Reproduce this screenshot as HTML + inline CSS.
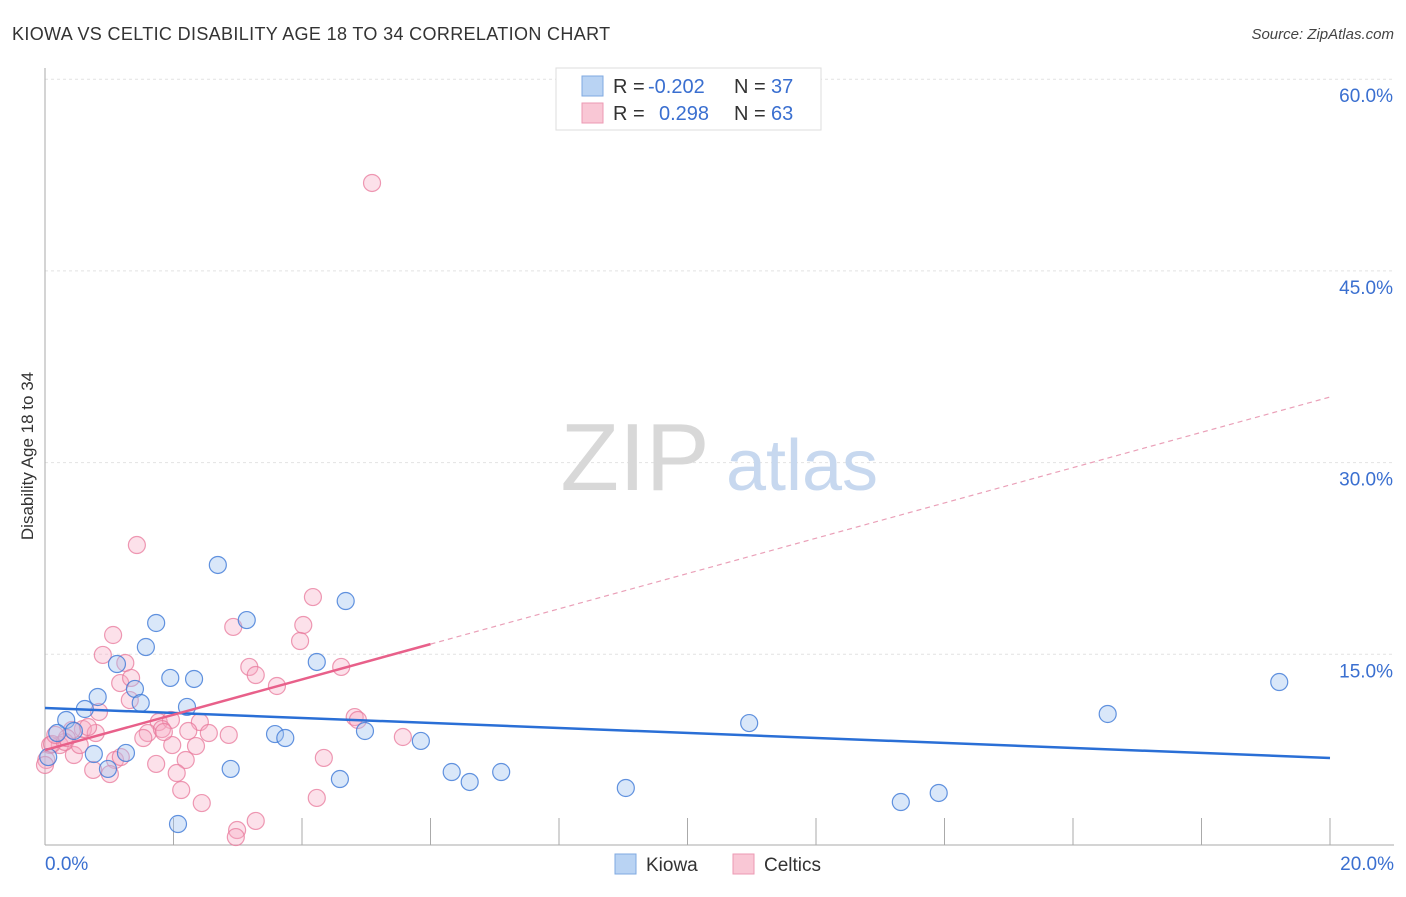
<!DOCTYPE html>
<html><head><meta charset="utf-8">
<style>
body{margin:0;background:#fff;font-family:"Liberation Sans",sans-serif;}
svg text{font-family:"Liberation Sans",sans-serif;}
</style></head>
<body>
<svg id="chart" width="1406" height="892" xmlns="http://www.w3.org/2000/svg">
<text x="12" y="40" font-size="18" fill="#333" letter-spacing="0.35">KIOWA VS CELTIC DISABILITY AGE 18 TO 34 CORRELATION CHART</text>
<text x="1394" y="39" font-size="15" fill="#444" text-anchor="end" font-style="italic">Source: ZipAtlas.com</text>
<text transform="translate(33,456) rotate(-90)" font-size="17" fill="#333" text-anchor="middle">Disability Age 18 to 34</text>
<g id="grid"></g>
<g>
<text x="635" y="490" font-size="96" fill="#d8d8d8" text-anchor="middle" font-family="Liberation Serif, serif">ZIP</text>
<text x="802" y="490" font-size="72" fill="#c7d8ef" text-anchor="middle">atlas</text>
</g>
<g id="marks"></g>
<g id="lines"></g>
<g>
<rect x="556" y="68" width="265" height="62" fill="#fff" stroke="#ddd"/>
<rect x="582" y="76" width="21" height="20" fill="#b9d3f3" stroke="#7fa9e0"/>
<rect x="582" y="103" width="21" height="20" fill="#f9c7d5" stroke="#ec9ab3"/>
<text x="613" y="93" font-size="20" fill="#333">R =</text>
<text x="648" y="93" font-size="20" fill="#3a6fd0">-0.202</text>
<text x="734" y="93" font-size="20" fill="#333">N =</text>
<text x="771" y="93" font-size="20" fill="#3a6fd0">37</text>
<text x="613" y="120" font-size="20" fill="#333">R =</text>
<text x="659" y="120" font-size="20" fill="#3a6fd0">0.298</text>
<text x="734" y="120" font-size="20" fill="#333">N =</text>
<text x="771" y="120" font-size="20" fill="#3a6fd0">63</text>
</g>
<g>
<rect x="615" y="854" width="21" height="20" fill="#b9d3f3" stroke="#7fa9e0"/>
<text x="646" y="871" font-size="19" fill="#333">Kiowa</text>
<rect x="733" y="854" width="21" height="20" fill="#f9c7d5" stroke="#ec9ab3"/>
<text x="764" y="871" font-size="19" fill="#333">Celtics</text>
</g>
</svg>
<script>
const xTicks=[0,2,4,6,8,10,12,14,16,18,20];
const yTicks=[15,30,45,60];
const kiowaX=[2.69,4.68,1.73,3.14,1.57,1.12,4.23,1.95,2.32,1.40,0.82,1.49,2.21,0.62,0.33,0.45,0.19,3.58,3.74,4.98,5.85,0.76,1.26,0.98,2.89,4.59,6.33,6.61,7.10,2.07,9.04,10.96,13.32,13.91,16.54,19.21,0.05];
const kiowaY=[21.99,19.17,17.45,17.68,15.57,14.24,14.40,13.15,13.07,12.29,11.66,11.19,10.88,10.72,9.86,9.00,8.84,8.76,8.45,9.00,8.22,7.20,7.28,6.03,6.03,5.24,5.79,5.01,5.79,1.72,4.54,9.62,3.44,4.15,10.33,12.83,6.96];
const celticsX=[5.09,1.43,4.17,2.93,4.02,3.97,1.06,0.90,1.25,3.18,3.28,4.61,1.17,1.34,3.61,0.84,1.77,1.96,2.41,4.82,4.87,2.23,2.55,2.86,1.60,1.53,1.82,0.59,0.79,0.67,0.42,0.23,0.45,0.08,0.02,1.98,2.35,1.09,1.73,2.19,4.34,5.57,0.75,1.01,2.05,2.12,2.44,4.23,3.28,2.99,2.97,0.11,0.31,1.18,0.54,0.34,1.32,1.85,0.00,0.16];
const celticsY=[51.88,23.55,19.48,17.14,17.29,16.04,16.51,14.95,14.32,14.01,13.38,14.01,12.75,13.15,12.52,10.49,9.70,9.86,9.70,10.09,9.86,9.00,8.84,8.69,8.84,8.45,9.15,9.15,8.84,9.31,9.08,7.90,7.12,7.90,6.73,7.90,7.82,6.73,6.42,6.73,6.89,8.53,5.95,5.63,5.71,4.38,3.36,3.76,1.96,1.25,0.70,7.98,8.14,6.96,7.90,8.45,11.42,8.92,6.34,8.69];
const kiowaTrend=[10.8,6.89];
const celticsTrend=[7.51,35.13];
const celticsSolidEnd=6.0;

const X0=45,X1=1330,Y0=846,PX_PER=191.7/15;
const sx=v=>X0+(v/20)*(X1-X0);
const sy=v=>Y0-v*PX_PER;
const NS="http://www.w3.org/2000/svg";
function mk(tag,attrs,parent){const e=document.createElementNS(NS,tag);for(const k in attrs)e.setAttribute(k,attrs[k]);parent.appendChild(e);return e;}
const grid=document.getElementById('grid');
yTicks.forEach(t=>{
  const l=mk('line',{x1:X0,x2:1394,y1:sy(t),y2:sy(t),stroke:'#e2e2e2','stroke-dasharray':'3,3'},grid);
  
  
  const tx=mk('text',{x:1393,y:sy(t)+23,'font-size':19,fill:'#3a6fd0','text-anchor':'end'},grid);
  tx.textContent=t.toFixed(1)+'%';
  
  
});
const ax=mk('line',{x1:X0,x2:1394,y1:845,y2:845,stroke:'#aaa'},grid);


const ay=mk('line',{x1:X0,x2:X0,y1:68,y2:845,stroke:'#aaa'},grid);


xTicks.forEach((t,i)=>{
  if(i===0)return;
  const l=mk('line',{x1:sx(t),x2:sx(t),y1:818,y2:845,stroke:'#aaa'},grid);
  
  
});
[[0,'start',45],[20,'end',1394]].forEach(([t,a,x])=>{
  const tx=mk('text',{x:x,y:870,'font-size':19,fill:'#3a6fd0','text-anchor':a},grid);
  tx.textContent=t.toFixed(1)+'%';
  
  
});
const marks=document.getElementById('marks');
celticsX.forEach((v,i)=>{
  const c=mk('circle',{cx:sx(v),cy:sy(celticsY[i]),r:8.5,fill:'rgba(247,170,195,0.35)',stroke:'rgba(232,120,155,0.75)','stroke-width':1.2},marks);
  
  
});
kiowaX.forEach((v,i)=>{
  const c=mk('circle',{cx:sx(v),cy:sy(kiowaY[i]),r:8.5,fill:'rgba(160,195,240,0.4)',stroke:'rgba(60,120,215,0.8)','stroke-width':1.2},marks);
  
  
});
const lines=document.getElementById('lines');
const kl=mk('line',{x1:sx(0),y1:sy(kiowaTrend[0]),x2:sx(20),y2:sy(kiowaTrend[1]),stroke:'#2a6fd6','stroke-width':2.5},lines);


const cy=x=>celticsTrend[0]+(celticsTrend[1]-celticsTrend[0])*x/20;
const cl=mk('line',{x1:sx(0),y1:sy(cy(0)),x2:sx(celticsSolidEnd),y2:sy(cy(celticsSolidEnd)),stroke:'#e8608a','stroke-width':2.5},lines);


const cd=mk('line',{x1:sx(celticsSolidEnd),y1:sy(cy(celticsSolidEnd)),x2:sx(20),y2:sy(cy(20)),stroke:'#eaa0b8','stroke-width':1.2,'stroke-dasharray':'5,4'},lines);


</script>
</body></html>
